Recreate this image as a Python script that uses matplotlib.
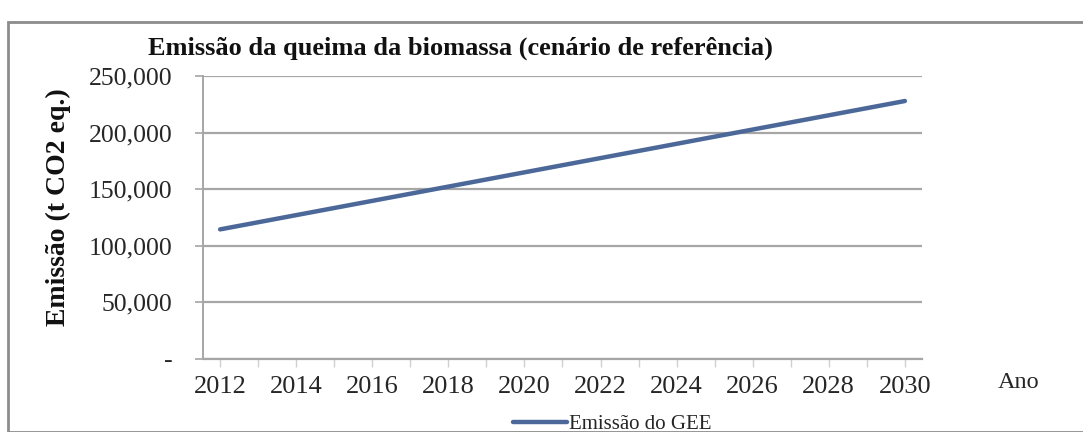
import matplotlib
matplotlib.use("Agg")
import matplotlib.pyplot as plt
from matplotlib.patches import Rectangle
from matplotlib.ticker import FuncFormatter

# Emissions from biomass burning, reference scenario (t CO2 eq.)
years = [2012, 2013, 2014, 2015, 2016, 2017, 2018, 2019, 2020, 2021,
         2022, 2023, 2024, 2025, 2026, 2027, 2028, 2029, 2030]
emissions = [114500, 120800, 127100, 133400, 139700, 146000, 152300, 158600,
             164900, 171200, 177500, 183800, 190100, 196400, 202700, 209000,
             215300, 221600, 227900]
label_years = [2012, 2014, 2016, 2018, 2020, 2022, 2024, 2026, 2028, 2030]
y_ticks = [0, 50000, 100000, 150000, 200000, 250000]

title = "Emissão da queima da biomassa (cenário de referência)"
y_label = "Emissão (t CO2 eq.)"
x_label = "Ano"
series_name = "Emissão do GEE"

plt.rcParams["font.family"] = ["Liberation Serif", "DejaVu Serif"]

W, H = 1083, 432
fig = plt.figure(figsize=(W / 100, H / 100), dpi=100)
fig.patch.set_facecolor("white")

# chart frame
fig.patches.append(Rectangle((8 / W, 0), 1.2, (H - 22) / H, transform=fig.transFigure,
                             fill=False, edgecolor="#8c8c8c", linewidth=2.0))

ax = fig.add_axes([203 / W, (H - 359) / H, (922 - 203) / W, (359 - 76) / H])
ax.plot(years, emissions, color="#4b6899", linewidth=3.2, solid_capstyle="round",
        label=series_name)

ax.set_xlim(2011.55, 2030.45)
ax.set_ylim(0, 250000)
ax.set_yticks(y_ticks)
ax.yaxis.set_major_formatter(FuncFormatter(lambda v, p: "-" if v == 0 else f"{int(v):,}"))
ax.set_xticks(label_years)
ax.set_xticks(years, minor=True)

ax.grid(axis="y", color="#a6a6a6", linewidth=1.6)
ax.set_axisbelow(True)
for s in ["top", "right"]:
    ax.spines[s].set_visible(False)
ax.spines["left"].set_color("#a6a6a6")
ax.spines["left"].set_linewidth(1.4)
ax.spines["bottom"].set_color("#a6a6a6")
ax.spines["bottom"].set_linewidth(1.6)

ax.tick_params(axis="y", which="major", length=6, color="#a6a6a6", width=1.2,
               labelsize=18.5, pad=16, labelcolor="#262626")
ax.tick_params(axis="x", which="both", length=6, color="#d0d0d0", width=1.0,
               labelsize=19, pad=6, labelcolor="#262626")

ax.set_title(title, fontsize=19, fontweight="bold", loc="left", x=-0.076, y=1.045,
             color="#111111")
ax.set_ylabel(y_label, fontsize=20, fontweight="bold", color="#111111")
ax.yaxis.set_label_coords(-0.183, 0.535)
fig.text(1019 / W, (H - 382) / H, x_label, fontsize=17.5, ha="center", va="center",
         color="#262626")

leg = fig.legend(loc="center", bbox_to_anchor=(612 / W, (H - 424) / H), frameon=False,
                 fontsize=15, handlelength=2.6, handletextpad=0.1,
                 labelcolor="#262626")

fig.savefig("out.png", dpi=100, facecolor="white")
